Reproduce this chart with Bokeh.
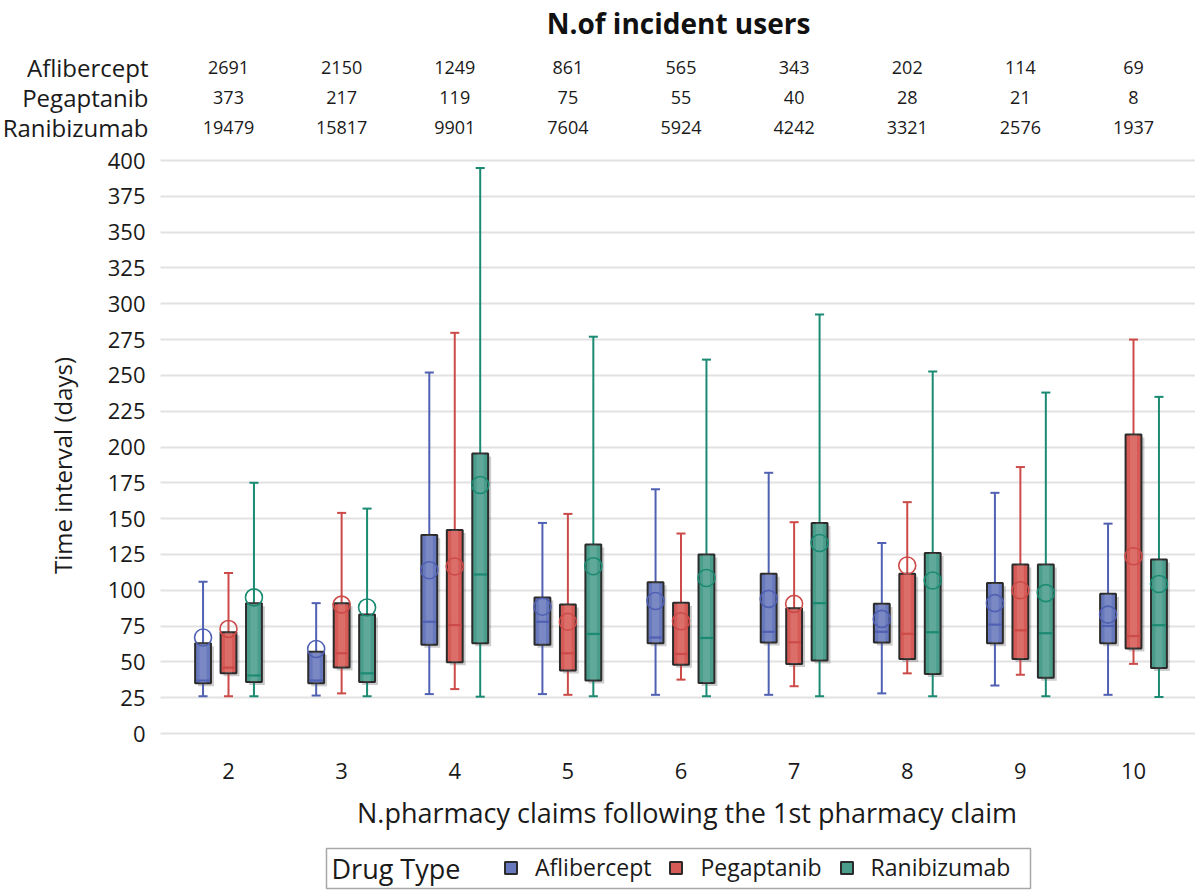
import math
from bokeh.plotting import figure
from bokeh.models import FixedTicker, Label, Legend, LegendItem, Range1d
from bokeh.core.properties import value
from bokeh.embed import file_html
from bokeh.resources import INLINE

# ---------------- data ----------------
categories = [2, 3, 4, 5, 6, 7, 8, 9, 10]
drugs = ["Aflibercept", "Pegaptanib", "Ranibizumab"]

users_aflibercept = [2691, 2150, 1249, 861, 565, 343, 202, 114, 69]
users_pegaptanib = [373, 217, 119, 75, 55, 40, 28, 21, 8]
users_ranibizumab = [19479, 15817, 9901, 7604, 5924, 4242, 3321, 2576, 1937]

afl_low = [26, 26.5, 27.5, 27.5, 27, 27, 28, 33.5, 27]
afl_q1 = [35, 35, 62, 62, 63, 63.5, 63.5, 63, 63]
afl_med = [37, 37, 78, 78, 67, 71, 71, 76, 75]
afl_q3 = [63, 57, 138.5, 95, 105.5, 111.5, 90.5, 105, 97.5]
afl_high = [106, 91, 252, 147, 170.5, 182, 133, 168, 146.5]
afl_mean = [67, 59, 114, 88.5, 92.5, 94, 80, 91, 83]

peg_low = [26, 28, 31, 27, 37.6, 33, 42, 41, 48.6]
peg_q1 = [42, 46, 49.7, 44, 48, 48.6, 52, 52, 59.3]
peg_med = [46, 56, 75.7, 56, 55.5, 63.7, 69.6, 72, 68]
peg_q3 = [70.7, 91, 142, 90, 91.2, 87.5, 111.5, 118, 208.7]
peg_high = [112, 154, 279.7, 153.3, 139.6, 147.5, 161.5, 186, 275]
peg_mean = [73, 90, 116.6, 78, 78.4, 90.5, 117.3, 100, 123.7]

ran_low = [26, 26, 25.7, 26, 26, 26, 26, 26, 25.5]
ran_q1 = [36, 36, 63, 37, 35.3, 51, 41.6, 39, 45.8]
ran_med = [40.5, 42, 111, 69.5, 66.7, 91, 70.7, 70, 75.6]
ran_q3 = [91, 83, 195.4, 131.9, 125, 147, 126, 118, 121.4]
ran_high = [175, 157, 394.7, 277, 261, 292.5, 252.7, 238, 235]
ran_mean = [95, 88, 173.5, 116.8, 108.6, 133, 106.8, 98, 104.4]

y_ticks = list(range(0, 401, 25))

# ---------------- geometry (pixel scale of the frame) ----------------
W, H = 1195, 891
PX_X = 113.125          # pixels per category step
PX_Y = 1.4325           # pixels per day
CAT0_PX = 228           # pixel position of the first category
ZERO_PX = 733           # pixel position of y = 0
X0 = categories[0] - CAT0_PX / PX_X
X1 = categories[0] + (W - CAT0_PX) / PX_X
Y1 = ZERO_PX / PX_Y
Y0 = -(H - ZERO_PX) / PX_Y


def ypx(py):
    return (ZERO_PX - py) / PX_Y


def xpx(px):
    return categories[0] + (px - CAT0_PX) / PX_X


XL = xpx(160)      # left edge of the plot area
XB = ypx(748)      # bottom edge of the plot area

FONT = "Open Sans"
TXT = "#1a1a1a"
fills = ["#6878BC", "#D65A55", "#4A9D8B"]
lines = ["#5060B2", "#CC4A48", "#1B8A72"]
offsets = [-0.225, 0.0, 0.225]
box_w = 0.14
cap_half = 0.04

p = figure(width=W, height=H, output_backend="svg", toolbar_location=None,
           x_range=Range1d(X0, X1), y_range=Range1d(Y0, Y1),
           min_border_left=0, min_border_right=0, min_border_top=0,
           min_border_bottom=0)
p.outline_line_color = None
p.background_fill_color = "white"
p.border_fill_color = "white"

p.xgrid.visible = False
p.ygrid.grid_line_color = "#e2e2e2"
p.ygrid.grid_line_width = 2
p.ygrid.ticker = FixedTicker(ticks=y_ticks)
use_cross = "cross_bounds" in p.ygrid[0].properties()
if use_cross:
    p.ygrid.cross_bounds = (XL, X1)

p.yaxis.ticker = FixedTicker(ticks=y_ticks)
p.xaxis.ticker = FixedTicker(ticks=categories)
p.yaxis.fixed_location = XL
p.xaxis.fixed_location = XB
for ax in (p.xaxis[0], p.yaxis[0]):
    ax.axis_line_color = None
    ax.major_tick_line_color = None
    ax.minor_tick_line_color = None
    ax.major_label_text_font = FONT
    ax.major_label_text_font_size = "22px"
    ax.major_label_text_color = TXT
p.yaxis.major_label_standoff = 9
p.xaxis.major_label_standoff = 8

if not use_cross:
    p.quad(left=[X0], right=[XL], bottom=[Y0], top=[Y1], fill_color="white",
           line_color=None)

series = [
    (afl_low, afl_q1, afl_med, afl_q3, afl_high, afl_mean),
    (peg_low, peg_q1, peg_med, peg_q3, peg_high, peg_mean),
    (ran_low, ran_q1, ran_med, ran_q3, ran_high, ran_mean),
]

box_renderers = []
sdx = 3 / PX_X
sdy = 3 / PX_Y
for i, (lo, q1, med, q3, hi, mn) in enumerate(series):
    xs = [c + offsets[i] for c in categories]
    # shadow
    p.vbar(x=[x + sdx for x in xs], width=box_w, bottom=[v - sdy for v in q1],
           top=[v - sdy for v in q3], fill_color="#000000", fill_alpha=0.2,
           line_color=None)
    # whiskers
    p.segment(x0=xs, y0=lo, x1=xs, y1=q1, line_color=lines[i], line_width=2)
    p.segment(x0=xs, y0=q3, x1=xs, y1=hi, line_color=lines[i], line_width=2)
    # caps
    p.segment(x0=[x - cap_half for x in xs], y0=lo, x1=[x + cap_half for x in xs],
              y1=lo, line_color=lines[i], line_width=2)
    p.segment(x0=[x - cap_half for x in xs], y0=hi, x1=[x + cap_half for x in xs],
              y1=hi, line_color=lines[i], line_width=2)
    # box
    r = p.vbar(x=xs, width=box_w, bottom=q1, top=q3, fill_color=fills[i],
               line_color="#2b2b2b", line_width=2)
    box_renderers.append(r)
    # inner highlight
    p.vbar(x=xs, width=box_w * 0.45, bottom=q1, top=q3, fill_color="white",
           fill_alpha=0.12, line_color=None)
    # median
    p.segment(x0=[x - box_w / 2 + 0.01 for x in xs], y0=med,
              x1=[x + box_w / 2 - 0.01 for x in xs], y1=med,
              line_color=lines[i], line_width=2.2)
    # mean
    p.scatter(x=xs, y=mn, marker="circle", size=17, fill_color=None,
              line_color=lines[i], line_width=1.6)

# ---------------- table of incident users ----------------
row_y = [ypx(67), ypx(97), ypx(127)]
counts = [users_aflibercept, users_pegaptanib, users_ranibizumab]
for k in range(3):
    p.text(x=categories, y=[row_y[k]] * len(categories),
           text=[str(v) for v in counts[k]], text_font=value(FONT),
           text_font_size="18px", text_align="center", text_baseline="middle",
           text_color=TXT)
p.text(x=[XL] * 3, y=row_y, text=drugs, x_offset=-12, text_font=value(FONT),
       text_font_size="24px", text_align="right", text_baseline="middle",
       text_color=TXT)

p.add_layout(Label(x=xpx(678), y=ypx(22), text="N.of incident users",
                   text_font=FONT, text_font_size="28px",
                   text_font_style="bold", text_align="center",
                   text_baseline="middle", text_color="#111111"))

p.text(x=[xpx(62)], y=[ypx(465)], text=["Time interval (days)"],
       angle=math.pi / 2, text_font=value(FONT), text_font_size="24px",
       text_align="center", text_baseline="middle", text_color=TXT)

p.add_layout(Label(x=xpx(686.5), y=ypx(812),
                   text="N.pharmacy claims following the 1st pharmacy claim",
                   text_font=FONT, text_font_size="27px", text_align="center",
                   text_baseline="middle", text_color=TXT))

# ---------------- legend ----------------
p.quad(left=[xpx(326)], right=[xpx(1030)], top=[ypx(848)], bottom=[ypx(888)],
       fill_color="white", line_color="#a8a8a8", line_width=1.5)
p.add_layout(Label(x=xpx(331), y=ypx(868), text="Drug Type", text_font=FONT,
                   text_font_size="27px", text_align="left",
                   text_baseline="middle", text_color=TXT))

legend = Legend(items=[LegendItem(label=drugs[i], renderers=[box_renderers[i]])
                       for i in range(3)],
                orientation="horizontal", location=(503, 8))
legend.label_text_font = FONT
legend.label_text_font_size = "23px"
legend.label_text_color = TXT
legend.glyph_width = 15
legend.glyph_height = 15
legend.label_standoff = 17
legend.spacing = 17
legend.padding = 5
legend.margin = 0
legend.border_line_color = None
legend.background_fill_alpha = 0
p.add_layout(legend, "center")

open("out.html", "w").write(file_html(p, INLINE))
